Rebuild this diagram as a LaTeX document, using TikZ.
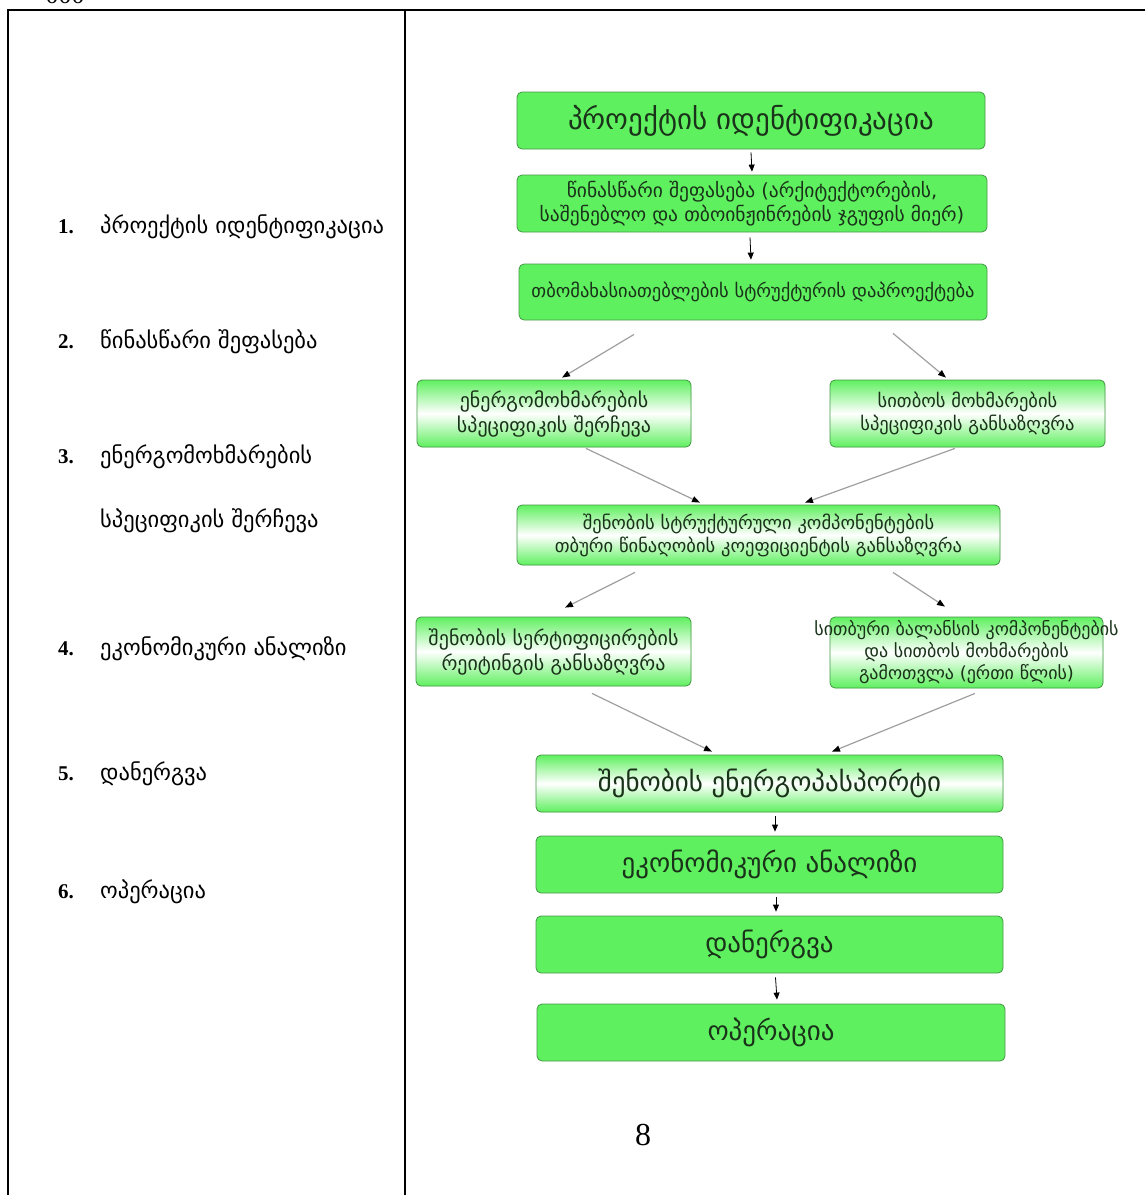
\documentclass[tikz,border=0pt]{standalone}
\usepackage{fontspec}
\usetikzlibrary{arrows.meta}
\newfontfamily\geo{DejaVu Sans}
\newfontfamily\tnr{Liberation Serif}
\definecolor{grn}{RGB}{95,240,95}
\definecolor{grnline}{RGB}{70,150,70}
\definecolor{txtgrn}{RGB}{25,50,25}

\tikzset{
  box/.style={draw=grnline, line width=0.8pt, rounded corners=5pt, fill=grn,
    text=txtgrn, align=center, inner sep=0pt, font=\geo\fontsize{18.5}{23}\selectfont},
  shadebox/.style={box, top color=grn, bottom color=grn, middle color=white},
  big/.style={font=\geo\fontsize{27}{30}\selectfont},
  mid/.style={font=\geo\fontsize{20}{25}\selectfont},
  arr/.style={draw=gray!75, line width=1.2pt, -{Triangle[length=8pt,width=6pt,color=black]}},
  varr/.style={draw=black, line width=0.8pt, -{Triangle[length=7pt,width=6pt]}},
  listnum/.style={anchor=base west, inner sep=0pt, font=\tnr\bfseries\fontsize{21}{24}\selectfont},
  listtxt/.style={anchor=base west, inner sep=0pt, font=\geo\fontsize{22.5}{26}\selectfont}
}

\begin{document}
\begin{tikzpicture}[x=1pt,y=-1pt]
  \useasboundingbox (0,0) rectangle (1145,1195);

  %table lines
  \draw[line width=2.5pt] (8,1200) -- (8,10) -- (1150,10);
  \draw[line width=2.5pt] (405,10) -- (405,1200);
  \node[anchor=base, inner sep=0pt, font=\tnr\fontsize{26}{30}\selectfont] (top) at (65,3) {000};

  %left column list
  \node[listnum] (n1) at (58,233) {1.};
  \node[listtxt] (l1) at (100,233) {პროექტის იდენტიფიკაცია};
  \node[listnum] (n2) at (58,348) {2.};
  \node[listtxt] (l2) at (100,348) {წინასწარი შეფასება};
  \node[listnum] (n3) at (58,463) {3.};
  \node[listtxt] (l3) at (100,463) {ენერგომოხმარების};
  \node[listtxt] (l3b) at (100,527) {სპეციფიკის შერჩევა};
  \node[listnum] (n4) at (58,655) {4.};
  \node[listtxt] (l4) at (100,655) {ეკონომიკური ანალიზი};
  \node[listnum] (n5) at (58,780) {5.};
  \node[listtxt] (l5) at (100,780) {დანერგვა};
  \node[listnum] (n6) at (58,898) {6.};
  \node[listtxt] (l6) at (100,898) {ოპერაცია};

  %flow chart boxes
  \node[box, font=\geo\fontsize{29}{32}\selectfont, minimum width=468pt, minimum height=57pt] (b1) at (751,120.5) {პროექტის იდენტიფიკაცია};
  \node[box, font=\geo\fontsize{19.5}{24}\selectfont, minimum width=470pt, minimum height=57pt] (b2) at (752,203.5) {წინასწარი შეფასება (არქიტექტორების,\\ საშენებლო და თბოინჟინრების ჯგუფის მიერ)};
  \node[box, minimum width=468pt, minimum height=56pt] (b3) at (753,292) {თბომახასიათებლების სტრუქტურის დაპროექტება};
  \node[shadebox, mid, minimum width=274pt, minimum height=67pt] (b4) at (554,413.5) {ენერგომოხმარების\\ სპეციფიკის შერჩევა};
  \node[shadebox, minimum width=275pt, minimum height=67pt] (b5) at (967.5,413.5) {სითბოს მოხმარების\\ სპეციფიკის განსაზღვრა};
  \node[shadebox, minimum width=483pt, minimum height=60pt] (b6) at (758.5,535) {შენობის სტრუქტურული კომპონენტების\\ თბური წინაღობის კოეფიციენტის განსაზღვრა};
  \node[shadebox, mid, minimum width=275pt, minimum height=69pt] (b7) at (553.5,651.5) {შენობის სერტიფიცირების\\ რეიტინგის განსაზღვრა};
  % text of this box runs over its sides
  \node[shadebox, minimum width=273pt, minimum height=71pt] (b8) at (966.5,652.5) {};
  \node[text=txtgrn, align=center, inner sep=0pt, font=\geo\fontsize{18}{22}\selectfont] (b8t) at (b8) {სითბური ბალანსის კომპონენტების\\ და სითბოს მოხმარების\\ გამოთვლა (ერთი წლის)};
  \node[shadebox, big, minimum width=467pt, minimum height=57pt] (b9) at (769.5,783.5) {შენობის ენერგოპასპორტი};
  \node[box, big, minimum width=467pt, minimum height=57pt] (b10) at (769.5,864.5) {ეკონომიკური ანალიზი};
  \node[box, big, minimum width=467pt, minimum height=57pt] (b11) at (769.5,944.5) {დანერგვა};
  \node[box, big, minimum width=468pt, minimum height=57pt] (b12) at (771,1032.5) {ოპერაცია};

  \node[anchor=base, inner sep=0pt, font=\tnr\fontsize{32}{36}\selectfont] (pnum) at (643,1145) {8};

  %arrows
  \draw[varr] ([yshift=-3pt]b1.south) -- ([yshift=3pt]b2.north);
  \draw[varr] ([xshift=-2pt,yshift=-5pt]b2.south) -- ([xshift=-2pt,yshift=4pt]b3.north);
  \draw[arr] ([xshift=-119pt,yshift=-14pt]b3.south) -- ([xshift=8pt,yshift=2pt]b4.north);
  \draw[arr] ([xshift=140pt,yshift=-13pt]b3.south) -- ([xshift=-21.5pt,yshift=2pt]b5.north);
  \draw[arr] ([xshift=32pt,yshift=-1pt]b4.south) -- ([xshift=-58.5pt,yshift=2pt]b6.north);
  \draw[arr] ([xshift=-12.5pt,yshift=-1pt]b5.south) -- ([xshift=46.5pt,yshift=2pt]b6.north);
  \draw[arr] ([xshift=-123.5pt,yshift=-7pt]b6.south) -- ([xshift=11.5pt,yshift=9pt]b7.north);
  \draw[arr] ([xshift=134.5pt,yshift=-7pt]b6.south) -- ([xshift=-21.5pt,yshift=10pt]b8.north);
  \draw[arr] ([xshift=38.5pt,yshift=-7pt]b7.south) -- ([xshift=-57.5pt,yshift=3pt]b9.north);
  \draw[arr] ([xshift=8.5pt,yshift=-5pt]b8.south) -- ([xshift=62.5pt,yshift=3pt]b9.north);
  \draw[varr] ([xshift=5.5pt,yshift=-4pt]b9.south) -- ([xshift=5.5pt,yshift=4pt]b10.north);
  \draw[varr] ([xshift=6.5pt,yshift=-4pt]b10.south) -- ([xshift=6.5pt,yshift=4pt]b11.north);
  \draw[varr] ([xshift=6pt,yshift=-4pt]b11.south) -- ([xshift=6pt,yshift=4pt]b12.north);
\end{tikzpicture}
\end{document}
